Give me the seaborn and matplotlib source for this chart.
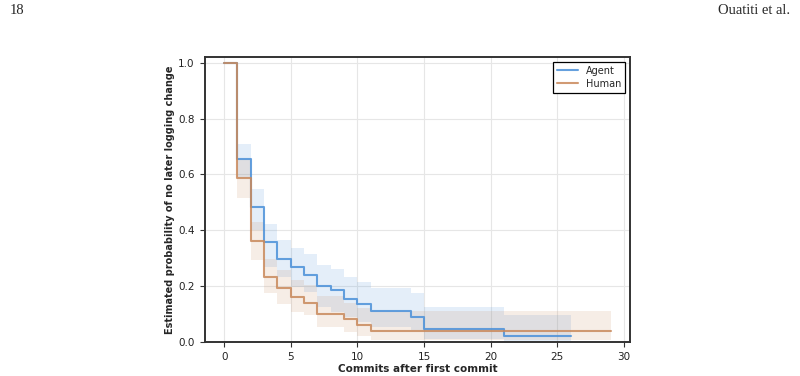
import matplotlib
matplotlib.use("Agg")
import matplotlib.pyplot as plt
import seaborn as sns
import pandas as pd

# Kaplan-Meier style step curves
agent_t = [0, 1, 2, 3, 4, 5, 6, 7, 8, 9, 10, 11, 14, 15, 21, 26]
agent_s = [1.0, 0.656, 0.485, 0.357, 0.297, 0.268, 0.241, 0.200, 0.185, 0.155,
           0.135, 0.112, 0.091, 0.046, 0.023, 0.023]
agent_hi = [1.0, 0.710, 0.547, 0.423, 0.366, 0.336, 0.314, 0.276, 0.262, 0.232,
            0.214, 0.195, 0.174, 0.124, 0.097, 0.097]
agent_lo = [1.0, 0.587, 0.400, 0.270, 0.234, 0.198, 0.180, 0.126, 0.109, 0.091,
            0.073, 0.055, 0.043, 0.010, 0.004, 0.004]

human_t = [0, 1, 2, 3, 4, 5, 6, 7, 9, 10, 11, 29]
human_s = [1.0, 0.588, 0.362, 0.232, 0.193, 0.161, 0.141, 0.102, 0.081, 0.061,
           0.041, 0.041]
human_hi = [1.0, 0.655, 0.429, 0.296, 0.258, 0.222, 0.204, 0.165, 0.140, 0.122,
            0.110, 0.110]
human_lo = [1.0, 0.515, 0.294, 0.175, 0.136, 0.108, 0.097, 0.055, 0.037, 0.020,
            0.008, 0.008]

colors = {"Agent": "#4A90D9", "Human": "#C9895B"}

sns.set_style("whitegrid", {
    "axes.edgecolor": "#333333",
    "grid.color": "#e6e6e6",
    "xtick.bottom": True,
    "ytick.left": True,
})
plt.rcParams["font.family"] = ["DejaVu Sans"]
plt.rcParams["axes.linewidth"] = 1.4

df = pd.concat([
    pd.DataFrame({"t": agent_t, "s": agent_s, "lo": agent_lo, "hi": agent_hi, "group": "Agent"}),
    pd.DataFrame({"t": human_t, "s": human_s, "lo": human_lo, "hi": human_hi, "group": "Human"}),
], ignore_index=True)

fig = plt.figure(figsize=(8, 3.76), dpi=100)
ax = fig.add_axes([0.256, 0.0904, 0.5315, 0.7576])

for name, g in df.groupby("group"):
    ax.fill_between(g["t"], g["lo"], g["hi"], step="post",
                    color=colors[name], alpha=0.15, linewidth=0)

sns.lineplot(data=df, x="t", y="s", hue="group", palette=colors,
             drawstyle="steps-post", linewidth=1.5, alpha=0.85,
             estimator=None, sort=False, ax=ax)

ax.set_ylim(0, 1.02)
ax.set_xticks([0, 5, 10, 15, 20, 25, 30])
ax.set_yticks([0.0, 0.2, 0.4, 0.6, 0.8, 1.0])
ax.tick_params(axis="both", labelsize=7.5, length=3.5, width=0.8, color="#333333",
               labelcolor="#222222", pad=4)
ax.set_xlabel("Commits after first commit", fontsize=7.5, fontweight="bold", labelpad=1)
ax.set_ylabel("Estimated probability of no later logging change", fontsize=7,
              fontweight="bold", labelpad=2)

leg = ax.legend(loc="upper right", fontsize=7, frameon=True, fancybox=False,
                title=None, handlelength=2.2, borderpad=0.4, labelspacing=0.3)
leg.get_frame().set_edgecolor("black")
leg.get_frame().set_linewidth(0.9)
leg.get_frame().set_alpha(1)

fig.text(0.012, 0.971, "18", fontsize=10.5, family="Liberation Serif", va="center", ha="left")
fig.text(0.988, 0.971, "Ouatiti et al.", fontsize=10.5, family="Liberation Serif",
         va="center", ha="right")

fig.savefig("out.png", dpi=100)
